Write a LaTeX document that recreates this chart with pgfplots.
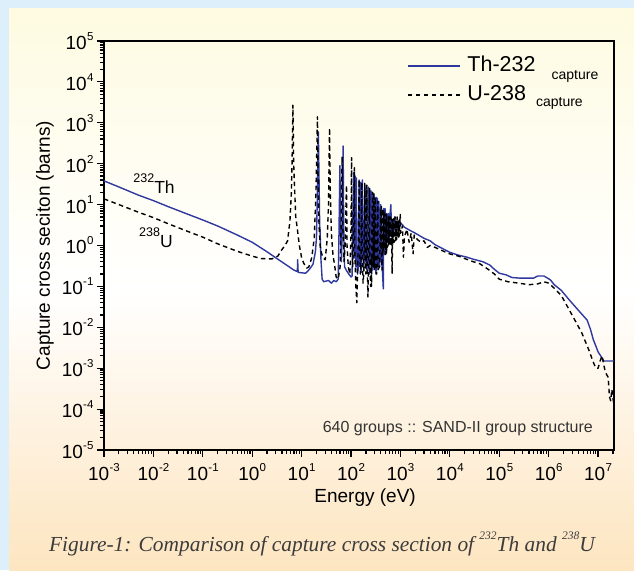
\documentclass[border=0pt]{standalone}
\usepackage{fontspec}
\setmainfont{Liberation Sans}
\newfontfamily\tnr{Liberation Serif}
\usepackage{pgfplots}
\pgfplotsset{compat=1.18}
\definecolor{bgblue}{RGB}{220,239,251}
\definecolor{ptop}{RGB}{254,251,225}
\definecolor{pbot}{RGB}{253,229,192}
\definecolor{thblue}{RGB}{46,56,158}
\definecolor{capgray}{RGB}{60,60,60}
\newcommand\supa[1]{\kern0.3pt\raisebox{0.48em}{\fontsize{11.5}{11.5}\selectfont #1}}
\newcommand\supb[1]{\raisebox{0.62em}{\fontsize{12.5}{12.5}\selectfont #1}}
\newcommand\supc[1]{\raisebox{0.55em}{\fontsize{11.5}{11.5}\selectfont #1}}
\begin{document}
\begin{tikzpicture}[x=1pt,y=1pt]
\useasboundingbox (0,0) rectangle (634,570);
\fill[bgblue] (0,0) rectangle (634,570);
\shade[top color=ptop, bottom color=pbot, middle color=white] (9,0) rectangle (634,561);
\begin{axis}[
  at={(104pt,120pt)}, anchor=south west,
  scale only axis, width=510pt, height=409pt,
  xmode=log, ymode=log,
  xmin=1e-3, xmax=2.1e7, ymin=1e-5, ymax=1e5,
  axis line style={line width=1.5pt},
  tick pos=left, tick align=outside,
  major tick length=7pt, minor tick length=4pt,
  every tick/.style={black, line width=1.2pt},
  xtick={1e-3,1e-2,1e-1,1e0,1e1,1e2,1e3,1e4,1e5,1e6,1e7},
  xticklabels={10\supa{-3},10\supa{-2},10\supa{-1},10\supa{0},10\supa{1},10\supa{2},10\supa{3},10\supa{4},10\supa{5},10\supa{6},10\supa{7}},
  ytick={1e-5,1e-4,1e-3,1e-2,1e-1,1e0,1e1,1e2,1e3,1e4,1e5},
  yticklabels={10\supa{-5},10\supa{-4},10\supa{-3},10\supa{-2},10\supa{-1},10\supa{0},10\supa{1},10\supa{2},10\supa{3},10\supa{4},10\supa{5}},
  minor xtick={2e-3,3e-3,4e-3,5e-3,6e-3,7e-3,8e-3,9e-3,
    2e-2,3e-2,4e-2,5e-2,6e-2,7e-2,8e-2,9e-2,
    2e-1,3e-1,4e-1,5e-1,6e-1,7e-1,8e-1,9e-1,
    2e0,3e0,4e0,5e0,6e0,7e0,8e0,9e0,
    2e1,3e1,4e1,5e1,6e1,7e1,8e1,9e1,
    2e2,3e2,4e2,5e2,6e2,7e2,8e2,9e2,
    2e3,3e3,4e3,5e3,6e3,7e3,8e3,9e3,
    2e4,3e4,4e4,5e4,6e4,7e4,8e4,9e4,
    2e5,3e5,4e5,5e5,6e5,7e5,8e5,9e5,
    2e6,3e6,4e6,5e6,6e6,7e6,8e6,9e6,2e7},
  minor ytick={2e-5,3e-5,4e-5,5e-5,6e-5,7e-5,8e-5,9e-5,
    2e-4,3e-4,4e-4,5e-4,6e-4,7e-4,8e-4,9e-4,
    2e-3,3e-3,4e-3,5e-3,6e-3,7e-3,8e-3,9e-3,
    2e-2,3e-2,4e-2,5e-2,6e-2,7e-2,8e-2,9e-2,
    2e-1,3e-1,4e-1,5e-1,6e-1,7e-1,8e-1,9e-1,
    2e0,3e0,4e0,5e0,6e0,7e0,8e0,9e0,
    2e1,3e1,4e1,5e1,6e1,7e1,8e1,9e1,
    2e2,3e2,4e2,5e2,6e2,7e2,8e2,9e2,
    2e3,3e3,4e3,5e3,6e3,7e3,8e3,9e3,
    2e4,3e4,4e4,5e4,6e4,7e4,8e4,9e4},
  ticklabel style={font=\fontsize{19}{19}\selectfont},
  xticklabel style={yshift=-3pt},
  xlabel={Energy (eV)}, ylabel={Capture cross seciton (barns)},
  label style={font=\fontsize{19}{19}\selectfont},
  xlabel style={at={(axis description cs:0.512,-0.116)}, anchor=center},
  ylabel style={at={(axis description cs:-0.116,0.5)}, anchor=center},
  legend style={draw=none, fill=none, at={(axis description cs:0.588,0.975)}, anchor=north west,
    font=\fontsize{21.5}{21.5}\selectfont, row sep=4pt,
    nodes={text height=16pt, text depth=5pt, inner sep=2pt}},
  legend cell align=left,
  legend image code/.code={\draw[#1] (0pt,0pt) -- (52pt,0pt);},
]
\addplot[thblue, line width=1.4pt, line join=round] coordinates {
(0.001,38) (0.002,27) (0.005,17) (0.01,12.5) (0.02,8.9) (0.05,5.8) (0.1,4.2) (0.2,3.0) (0.5,1.8)
(1,1.2) (2,0.7) (3,0.5) (5,0.33) (7,0.25) (8.2,0.23) (8.3,0.45) (8.5,0.22) (12,0.21) (13.5,0.24)
(15,0.28) (17,0.35) (19,0.7) (20,1.6) (21,30) (21.8,600) (22.6,30) (23.2,3) (23.6,2.5) (24.5,0.5)
(26,0.15) (28,0.13) (35,0.14) (40,0.12) (45,0.14) (50,0.13) (55,0.15) (57,2) (59.5,90) (61.5,2)
(64,0.4) (67,5) (69.2,270) (71,3) (74,0.3) (80,0.25) (90,0.2) (100,0.17) (105,0.18) (108,3)
(113,60) (115,2) (117,0.5) (119,3) (121,50) (123,1) (125,0.3) (127,4) (128.5,45) (130,1)
(135,0.2) (140,0.3) (143,5) (146,40) (149,0.8) (152,0.3) (155,35) (158,0.9) (162,0.22) (167,6)
(170,40) (174,1) (180,0.3) (186,3) (192,30) (194,0.5) (197,25) (200,0.4) (210,0.25) (217,2)
(221,27) (225,0.5) (235,0.2) (245,3) (252,22) (256,0.3) (260,3) (263,20) (268,0.3) (275,0.25)
(282,4) (286,18) (290,0.3) (300,3) (305,15) (310,0.3) (320,0.2) (326,3) (329,15) (333,0.25)
(339,4) (342,14) (346,0.3) (355,1) (365,12) (370,0.5) (380,0.3) (395,3) (399,10) (403,0.4)
(410,3) (413,8) (418,0.5) (440,0.15) (450,0.087) (455,6) (460,8) (470,0.6) (480,1) (488,8)
(495,0.8) (510,1.5) (516,6) (520,1) (530,6) (540,1.2) (560,1.2) (568,6) (575,1.3) (590,5)
(600,1.4) (616,6) (640,10) (660,1.8) (700,3) (720,2) (760,5) (800,2.2) (850,4) (900,2.5)
(950,4) (1000,3.6) (1100,3.2) (1200,2.8) (1500,2.4) (2000,2) (3000,1.5) (4000,1.3) (5000,1.05)
(7000,0.85) (10000,0.68) (15000,0.58) (22000,0.52) (30000,0.46) (47000,0.4) (65000,0.33)
(80000,0.26) (100000,0.21) (140000,0.19) (180000,0.165) (250000,0.16) (500000,0.16)
(600000,0.18) (800000,0.18) (1080000,0.145) (1300000,0.11) (1800000,0.08) (2600000,0.047)
(4000000,0.026) (6000000,0.015) (7000000,0.009) (8000000,0.005) (9000000,0.0035)
(10000000,0.0025) (12000000,0.0018) (13000000,0.0015) (21000000,0.0015)
};
\addlegendentry{\kern5pt Th-232\hspace{16pt}\raisebox{-8pt}[0pt][0pt]{\fontsize{14}{14}\selectfont capture}}
\addplot[black, line width=1.4pt, line join=round, dash pattern=on 4.5pt off 3.5pt] coordinates {
(0.001,13.8) (0.002,10) (0.005,6.5) (0.01,4.8) (0.02,3.4) (0.05,2.2) (0.1,1.6) (0.2,1.1)
(0.5,0.72) (1,0.55) (1.5,0.48) (2.5,0.47) (3.3,0.55) (4,0.8) (4.6,1) (5.2,1.3) (5.8,4) (6.2,20)
(6.4,100) (6.67,2700) (6.9,100) (7.2,25) (7.6,5) (8.2,2.5) (9,1) (10,0.5) (11,0.37) (12.7,0.28)
(14,0.3) (16,0.5) (18,1.5) (19.5,20) (20.9,1400) (21.5,50) (22.5,3) (24,0.8) (27,0.5) (30,0.45)
(33,1.5) (35,10) (36.7,750) (38,20) (40,2) (43,0.6) (47,0.3) (50,0.17) (55,0.15) (60,0.3) (63,3)
(66,145) (68,3) (72,0.4) (76,1) (79,10) (81,30) (83,1) (88,0.3) (95,0.2) (100,3) (102.5,140)
(104,2) (108,0.3) (112,1) (116.9,80) (119,0.8) (125,0.1) (131,0.04) (136,0.3) (142,2) (145.7,40)
(149,0.8) (155,0.2) (160,0.5) (165,35) (169,0.6) (175,0.12) (181,0.2) (186,5) (189.7,33)
(193,0.4) (200,0.2) (205,4) (208.5,30) (212,0.3) (220,0.055) (230,2) (237.4,25) (241,0.3)
(250,0.1) (255,0.5) (260,0.1) (265,3) (273.7,20) (278,0.3) (285,2) (291,20) (295,0.25) (305,3)
(311,15) (316,0.3) (330,0.2) (340,3) (348,12) (352,0.25) (375,0.3) (390,2) (398,8) (402,0.8)
(408,3) (411,9) (415,0.5) (425,0.25) (430,3) (434,8) (438,0.6) (455,1) (463,7) (468,0.8)
(475,2) (478,6) (485,0.8) (500,0.6) (510,1.5) (518,6) (522,0.6) (535,5) (540,0.9) (560,1)
(580,5) (585,1) (594,5) (600,1) (619,4) (625,5) (640,1) (661,4.5) (670,0.5) (680,0.21) (693,4)
(700,1) (708,4) (715,1.2) (721,4.5) (730,3) (745,1.2) (780,5) (800,1.3) (821,4) (835,1.4)
(856,5) (870,1.5) (905,4) (920,1.6) (937,4.2) (950,1.7) (990,6) (1010,2) (1100,3) (1150,0.52)
(1200,1.6) (1350,2.5) (1500,1.2) (1650,2) (1800,0.63) (1900,1.8) (2200,1.4) (2600,1.2)
(3000,1.3) (3500,0.9) (4000,1) (5000,0.9) (7000,0.75) (10000,0.62) (15000,0.55) (20000,0.48)
(30000,0.4) (40000,0.36) (60000,0.26) (80000,0.2) (100000,0.15) (150000,0.13) (250000,0.12)
(400000,0.11) (600000,0.115) (800000,0.13) (1000000,0.12) (1300000,0.09) (1800000,0.06)
(2400000,0.032) (3500000,0.014) (4700000,0.0072) (6500000,0.0028) (8000000,0.0014)
(9000000,0.001) (10000000,0.001) (11000000,0.0015) (12000000,0.002) (14000000,0.0008)
(16000000,0.0006) (17000000,0.0002) (18000000,0.00016) (19000000,0.0003) (21000000,0.00012)
};
\addlegendentry{\kern5pt U-238\hspace{10pt}\raisebox{-6pt}[0pt][0pt]{\fontsize{14}{14}\selectfont capture}}
\node[anchor=base west, inner sep=0pt, font=\fontsize{17.5}{17.5}\selectfont] at (axis cs:3.9e-3,19) {\supb{232}Th};
\node[anchor=base west, inner sep=0pt, font=\fontsize{17.5}{17.5}\selectfont] at (axis cs:5.1e-3,0.91) {\supb{238}U};
\node[anchor=base east, inner sep=0pt, font=\fontsize{16}{16}\selectfont, text=black!80] at (axis description cs:0.959,0.044) {640 groups :: SAND-II group structure};
\end{axis}
\node[anchor=base, inner sep=0pt, text=capgray, font=\tnr\itshape\fontsize{21.4}{21.4}\selectfont] at (322,19) {Figure-1: Comparison of capture cross section of \supc{232}Th and \supc{238}U};
\end{tikzpicture}
\end{document}
